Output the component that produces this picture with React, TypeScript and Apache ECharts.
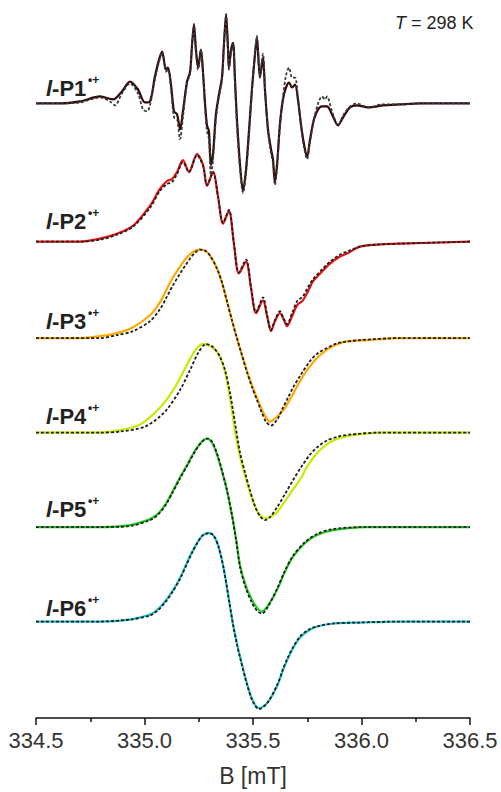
import React, { useEffect, useRef } from "react";
import * as echarts from "echarts";

const FONT = '"Liberation Sans", Arial, Helvetica, sans-serif';

// magnetic field axis (mT)
const fieldMin = 334.5;
const fieldMax = 336.5;
const fieldStep = 0.5;

const radicalNames = ["P1", "P2", "P3", "P4", "P5", "P6"];
// vertical stacking offsets of each spectrum (arbitrary intensity units)
const baselineOffsets = [618, 479, 382, 287, 192, 97];
const expColors = ["#300606", "#e01010", "#ffa800", "#c8ea00", "#1fcc1f", "#1ec8d2"];
const simColors = ["#3a3a3a", "#1e1e1e", "#1e1e1e", "#1e1e1e", "#1e1e1e", "#1e1e1e"];
const temperatureLabel = "298 K";

// [B (mT), intensity (a.u.)]
const p1Exp = [
  [334.5, 0], [334.611, 0], [334.703, 2], [334.795, 7], [334.855, 4], [334.896, 12], [334.933, 22], [334.97, 14],
  [335.002, 1], [335.025, 2], [335.048, 27], [335.067, 44], [335.081, 52], [335.099, 34], [335.108, 36], [335.122, 19],
  [335.136, -8], [335.15, -11], [335.164, -26], [335.177, -8], [335.196, 22], [335.21, 32], [335.219, 59], [335.228, 79],
  [335.237, 54], [335.247, 36], [335.26, 54], [335.27, 30], [335.279, 0], [335.288, -22], [335.297, -28], [335.306, -62],
  [335.316, -50], [335.329, -11], [335.343, 9], [335.357, 26], [335.366, 59], [335.376, 89], [335.385, 54], [335.389, 36],
  [335.399, 54], [335.408, 61], [335.417, 24], [335.426, -16], [335.44, -61], [335.454, -88], [335.468, -66], [335.482, -26],
  [335.495, 14], [335.509, 49], [335.518, 66], [335.532, 26], [335.546, 46], [335.555, 14], [335.569, -26], [335.583, -46],
  [335.592, -56], [335.601, -79], [335.611, -61], [335.624, -21], [335.638, 4], [335.652, 16], [335.666, 21], [335.68, 16],
  [335.694, 19], [335.707, 4], [335.721, -21], [335.735, -41], [335.749, -54], [335.763, -36], [335.781, -16], [335.8, -6],
  [335.818, -3], [335.841, -3], [335.864, -11], [335.892, -22], [335.915, -14], [335.947, -4], [335.979, -2], [336.03, -4],
  [336.099, -2], [336.177, -1], [336.27, 0], [336.5, 0],
];
const p1Sim = [
  [334.5, 0], [334.611, 0], [334.703, 1], [334.795, 6], [334.841, 2], [334.864, -2], [334.896, 10], [334.933, 20],
  [334.97, 10], [334.993, -6], [335.012, -8], [335.025, -2], [335.048, 24], [335.067, 42], [335.081, 52], [335.099, 32],
  [335.108, 34], [335.122, 15], [335.136, -14], [335.15, -16], [335.164, -36], [335.177, -14], [335.196, 20], [335.21, 30],
  [335.219, 58], [335.228, 80], [335.237, 52], [335.247, 34], [335.26, 54], [335.27, 28], [335.279, -4], [335.288, -28],
  [335.297, -36], [335.306, -72], [335.316, -56], [335.329, -16], [335.343, 6], [335.357, 24], [335.366, 58], [335.376, 90],
  [335.385, 52], [335.389, 34], [335.399, 52], [335.408, 60], [335.417, 20], [335.426, -22], [335.44, -66], [335.454, -90],
  [335.468, -70], [335.482, -30], [335.495, 12], [335.509, 50], [335.518, 68], [335.532, 28], [335.546, 50], [335.555, 16],
  [335.569, -28], [335.583, -50], [335.592, -60], [335.601, -82], [335.611, -64], [335.624, -24], [335.638, 6], [335.652, 28],
  [335.666, 36], [335.68, 26], [335.694, 26], [335.707, 6], [335.721, -22], [335.735, -44], [335.749, -56], [335.763, -38],
  [335.781, -16], [335.8, 0], [335.818, 7], [335.832, 4], [335.841, 7], [335.864, -8], [335.892, -22], [335.915, -12],
  [335.947, -3], [335.979, 0], [336.03, -4], [336.099, -1], [336.177, -1], [336.27, 0], [336.5, 0],
];

const p2Exp = [
  [334.5, 0], [334.703, 0], [334.795, 3], [334.873, 8], [334.947, 16], [335.025, 36], [335.071, 53], [335.104, 61],
  [335.127, 63], [335.15, 70], [335.177, 82], [335.205, 70], [335.242, 88], [335.27, 77], [335.288, 56], [335.316, 70],
  [335.339, 45], [335.362, 18], [335.389, 31], [335.412, -2], [335.435, -32], [335.468, -20], [335.491, -47], [335.514, -72],
  [335.546, -59], [335.565, -75], [335.583, -90], [335.601, -80], [335.624, -72], [335.643, -79], [335.657, -85], [335.68, -75],
  [335.703, -64], [335.73, -59], [335.753, -50], [335.776, -40], [335.818, -30], [335.855, -22], [335.901, -15], [335.933, -12],
  [335.993, -5], [336.071, -3], [336.177, -2], [336.5, 0],
];
const p2Sim = [
  [334.5, 0], [334.703, 0], [334.795, 2], [334.873, 7], [334.947, 15], [335.025, 34], [335.071, 51], [335.104, 58],
  [335.127, 60], [335.15, 68], [335.177, 80], [335.205, 70], [335.242, 87], [335.27, 76], [335.288, 57], [335.316, 70],
  [335.339, 45], [335.362, 19], [335.389, 32], [335.412, -2], [335.435, -31], [335.468, -18], [335.491, -46], [335.514, -71],
  [335.546, -56], [335.565, -74], [335.583, -89], [335.601, -79], [335.624, -70], [335.643, -78], [335.657, -83], [335.68, -72],
  [335.703, -60], [335.73, -55], [335.753, -46], [335.776, -38], [335.818, -28], [335.855, -20], [335.901, -13], [335.933, -10],
  [335.993, -5], [336.071, -3], [336.177, -2], [336.5, 0],
];

const p3Exp = [
  [334.5, 0], [334.703, 0], [334.795, 2], [334.873, 5], [334.947, 11], [335.025, 23], [335.071, 36], [335.104, 50], [335.131, 61],
  [335.164, 72], [335.191, 80], [335.219, 86], [335.251, 89], [335.279, 88], [335.302, 83], [335.334, 70], [335.357, 56],
  [335.38, 37], [335.403, 18], [335.426, 0], [335.449, -17], [335.472, -33], [335.495, -47], [335.518, -60], [335.537, -70],
  [335.555, -78], [335.578, -84], [335.601, -81], [335.638, -73], [335.68, -58], [335.717, -43], [335.753, -31], [335.795, -20],
  [335.832, -13], [335.869, -8], [335.915, -4], [335.947, -3], [336.025, -2], [336.177, 0], [336.5, 0],
];
const p3Sim = [
  [334.5, 0], [334.795, 0], [334.873, 3], [334.947, 7], [335.025, 17], [335.071, 29], [335.104, 42], [335.131, 53],
  [335.164, 65], [335.191, 74], [335.21, 80], [335.233, 86], [335.256, 89], [335.279, 88], [335.302, 83], [335.334, 70],
  [335.357, 56], [335.38, 37], [335.403, 18], [335.426, 0], [335.449, -17], [335.472, -34], [335.495, -49], [335.518, -62],
  [335.541, -75], [335.56, -84], [335.583, -88], [335.611, -82], [335.638, -70], [335.661, -60], [335.684, -50], [335.717, -38],
  [335.763, -23], [335.8, -15], [335.841, -10], [335.878, -6], [335.915, -4], [335.993, -2], [336.177, 0], [336.5, 0],
];

const p4Exp = [
  [334.5, 0], [334.795, 0], [334.873, 2], [334.979, 8], [335.071, 25], [335.127, 41], [335.164, 55], [335.21, 74],
  [335.242, 85], [335.27, 89], [335.293, 88], [335.316, 85], [335.339, 80], [335.362, 68], [335.38, 52], [335.399, 28],
  [335.417, 2], [335.44, -24], [335.463, -43], [335.486, -60], [335.509, -74], [335.532, -83], [335.555, -86], [335.588, -84],
  [335.615, -79], [335.638, -72], [335.675, -60], [335.717, -47], [335.753, -33], [335.79, -22], [335.827, -14], [335.869, -8],
  [335.924, -4], [335.975, -2], [336.085, 0], [336.5, 0],
];
const p4Sim = [
  [334.5, 0], [334.795, 0], [334.887, 1], [335.002, 6], [335.094, 21], [335.164, 43], [335.21, 63], [335.247, 80],
  [335.283, 89], [335.316, 86], [335.348, 76], [335.371, 63], [335.394, 40], [335.417, 10], [335.44, -20], [335.463, -40],
  [335.486, -58], [335.509, -74], [335.532, -84], [335.555, -88], [335.578, -85], [335.611, -75], [335.647, -62], [335.684, -48],
  [335.721, -35], [335.763, -22], [335.8, -14], [335.841, -8], [335.892, -4], [335.947, -2], [336.085, 0], [336.5, 0],
];

const p5Exp = [
  [334.5, 0], [334.795, 0], [334.933, 2], [335.025, 8], [335.06, 13], [335.094, 22], [335.13, 36], [335.164, 50], [335.2, 64],
  [335.233, 77], [335.265, 86], [335.288, 89], [335.311, 85], [335.334, 73], [335.357, 56], [335.38, 37], [335.403, 12],
  [335.422, -12], [335.44, -38], [335.468, -60], [335.495, -73], [335.518, -81], [335.541, -85], [335.569, -79], [335.611, -63],
  [335.647, -45], [335.684, -30], [335.74, -16], [335.795, -8], [335.869, -3], [336.025, 0], [336.5, 0],
];
const p5Sim = [
  [334.5, 0], [334.795, 0], [334.933, 1], [335.025, 7], [335.06, 12], [335.094, 21], [335.13, 35], [335.164, 49], [335.2, 63],
  [335.233, 76], [335.265, 86], [335.288, 89], [335.311, 86], [335.334, 74], [335.357, 57], [335.38, 37], [335.403, 12],
  [335.422, -13], [335.44, -40], [335.468, -62], [335.495, -76], [335.518, -84], [335.541, -87], [335.569, -80], [335.611, -62],
  [335.647, -44], [335.684, -29], [335.74, -15], [335.795, -7], [335.869, -2], [336.025, 0], [336.5, 0],
];

const p6Exp = [
  [334.5, 0], [334.795, 0], [334.933, 2], [335.025, 7], [335.06, 12], [335.094, 20], [335.13, 31], [335.164, 44], [335.219, 70],
  [335.265, 86], [335.297, 89], [335.32, 86], [335.343, 74], [335.366, 52], [335.389, 22], [335.408, -3], [335.426, -22],
  [335.44, -35], [335.472, -62], [335.5, -80], [335.528, -87], [335.565, -82], [335.611, -65], [335.638, -49], [335.657, -39],
  [335.684, -27], [335.717, -16], [335.757, -9], [335.795, -5], [335.869, -2], [335.993, -1], [336.177, 0], [336.5, 0],
];
const p6Sim = [
  [334.5, 0], [334.795, 0], [334.933, 2], [335.025, 6], [335.06, 11], [335.094, 19], [335.13, 30], [335.164, 43], [335.219, 69],
  [335.265, 86], [335.297, 89], [335.32, 86], [335.343, 74], [335.366, 52], [335.389, 22], [335.408, -3], [335.426, -23],
  [335.44, -36], [335.472, -63], [335.5, -81], [335.528, -88], [335.565, -82], [335.611, -64], [335.638, -48], [335.657, -38],
  [335.684, -26], [335.717, -15], [335.757, -8], [335.795, -5], [335.869, -2], [335.993, -1], [336.177, 0], [336.5, 0],
];

const expSpectra = [p1Exp, p2Exp, p3Exp, p4Exp, p5Exp, p6Exp];
const simSpectra = [p1Sim, p2Sim, p3Sim, p4Sim, p5Sim, p6Sim];

// label layout (pixels)
const labelCenters = [88, 221, 321, 416, 509, 608];

export default function App() {
  const ref = useRef<HTMLDivElement>(null);
  useEffect(() => {
    document.body.style.margin = "0";
    document.body.style.overflow = "hidden";
    if (!ref.current) return;
    const chart = echarts.init(ref.current, null, { renderer: "svg" });

    const series: any[] = [];
    radicalNames.forEach((name, i) => {
      const off = baselineOffsets[i];
      series.push({
        type: "line",
        name: name + " exp",
        data: expSpectra[i].map(([b, v]) => [b, off + v]),
        showSymbol: false,
        smooth: 0.3,
        lineStyle: { color: expColors[i], width: 2.2 },
        z: 2,
        silent: true,
      });
      series.push({
        type: "line",
        name: name + " sim",
        data: simSpectra[i].map(([b, v]) => [b, off + v]),
        showSymbol: false,
        smooth: 0.3,
        lineStyle: { color: simColors[i], width: 1.8, type: [3, 2] },
        z: 3,
        silent: true,
      });
    });

    const labelGraphics: any[] = [];
    radicalNames.forEach((name, i) => {
      labelGraphics.push({
        type: "text",
        x: 46,
        y: labelCenters[i],
        style: {
          text: "{i|l}{b|-" + name + "}",
          verticalAlign: "middle",
          rich: {
            i: { fontFamily: FONT, fontSize: 22, fontWeight: "bold", fontStyle: "italic", fill: "#222" },
            b: { fontFamily: FONT, fontSize: 22, fontWeight: "bold", fill: "#222" },
          },
        },
      });
      labelGraphics.push({
        type: "text",
        x: 88,
        y: labelCenters[i] - 8,
        style: {
          text: "•+",
          verticalAlign: "middle",
          font: "bold 12px " + FONT,
          fill: "#222",
        },
      });
    });
    labelGraphics.push({
      type: "text",
      x: 395,
      y: 23,
      style: {
        text: "{i|T}{n| = " + temperatureLabel + "}",
        verticalAlign: "middle",
        rich: {
          i: { fontFamily: FONT, fontSize: 18, fontStyle: "italic", fill: "#222" },
          n: { fontFamily: FONT, fontSize: 18, fill: "#222" },
        },
      },
    });

    chart.setOption({
      animation: false,
      backgroundColor: "#ffffff",
      grid: { left: 36, right: 31, top: 0, bottom: 70, containLabel: false },
      xAxis: {
        type: "value",
        min: fieldMin,
        max: fieldMax,
        interval: fieldStep,
        name: "B [mT]",
        nameLocation: "middle",
        nameGap: 46,
        nameTextStyle: { fontFamily: FONT, fontSize: 23, color: "#333" },
        axisLine: { show: true, onZero: false, lineStyle: { color: "#111", width: 1.5 } },
        axisTick: { show: true, inside: false, length: 7, lineStyle: { color: "#111", width: 1.5 } },
        minorTick: { show: true, splitNumber: 2, length: 4, lineStyle: { color: "#111", width: 1.5 } },
        splitLine: { show: false },
        minorSplitLine: { show: false },
        axisLabel: {
          margin: 11,
          fontFamily: FONT,
          fontSize: 22,
          color: "#333",
          formatter: (v: number) => v.toFixed(1),
        },
      },
      yAxis: {
        type: "value",
        min: 0,
        max: 722,
        show: false,
        splitLine: { show: false },
      },
      graphic: labelGraphics,
      series,
    });
    return () => chart.dispose();
  }, []);
  return <div ref={ref} style={{ width: 501, height: 792, overflow: "hidden" }} />;
}
